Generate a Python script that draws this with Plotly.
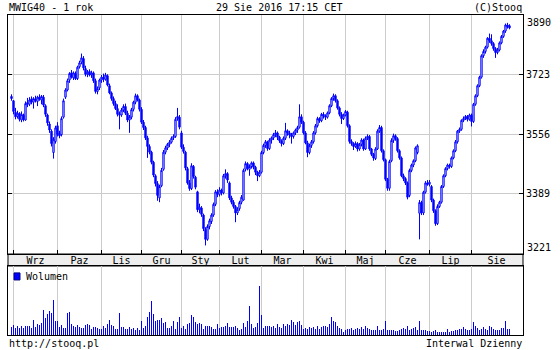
import plotly.graph_objects as go

# ---------------- data ----------------
months = ["Wrz", "Paz", "Lis", "Gru", "Sty", "Lut", "Mar", "Kwi", "Maj", "Cze", "Lip", "Sie"]
month_start_idx = [1, 23, 45, 65, 85, 104, 125, 146, 167, 187, 209, 230]
month_label_pos = [12, 34, 55, 75, 94.5, 114.5, 135.5, 156.5, 177, 198, 219.5, 242.5]
price_ticks = [3389.25, 3556.5, 3722.75]
price_tick_text = ["3389", "3556", "3723"]
price_min, price_max = 3221, 3890

opens = [
    3662, 3650, 3618, 3606, 3614, 3596, 3610, 3596, 3645, 3640,
    3655, 3646, 3655, 3648, 3660, 3652, 3660, 3636, 3610, 3585,
    3565, 3505, 3536, 3580, 3558, 3555, 3604, 3660, 3680, 3708,
    3728, 3714, 3726, 3712, 3745, 3758, 3768, 3740, 3724, 3732,
    3722, 3728, 3706, 3676, 3686, 3708, 3716, 3710, 3720, 3692,
    3672, 3656, 3642, 3628, 3612, 3610, 3624, 3634, 3615, 3596,
    3604, 3626, 3646, 3664, 3652, 3626, 3590, 3575, 3546, 3522,
    3506, 3478, 3440, 3418, 3378, 3412, 3458, 3506, 3518, 3528,
    3534, 3546, 3550, 3600, 3604, 3560, 3520, 3506, 3460, 3420,
    3404, 3466, 3436, 3395, 3345, 3350, 3330, 3290, 3262, 3298,
    3312, 3330, 3360, 3395, 3388, 3400, 3392, 3440, 3446, 3420,
    3378, 3366, 3354, 3336, 3348, 3366, 3372, 3458, 3474, 3458,
    3466, 3476, 3464, 3450, 3440, 3450, 3505, 3525, 3535, 3516,
    3540, 3546, 3555, 3560, 3548, 3538, 3530, 3545, 3566, 3560,
    3554, 3550, 3560, 3568, 3576, 3605, 3590, 3560, 3532, 3505,
    3525, 3535, 3560, 3580, 3600, 3594, 3612, 3608, 3604, 3616,
    3636, 3656, 3664, 3650, 3630, 3612, 3600, 3610, 3618, 3580,
    3536, 3530, 3522, 3530, 3515, 3528, 3540, 3515, 3545, 3550,
    3515, 3500, 3488, 3515, 3565, 3575, 3510, 3485, 3430, 3405,
    3482, 3539, 3552, 3544, 3510, 3490, 3440, 3432, 3420, 3385,
    3455, 3470, 3482, 3505, 3335, 3365, 3336, 3394, 3420, 3416,
    3410, 3372, 3342, 3306, 3354, 3366, 3410, 3440, 3460, 3470,
    3466, 3490, 3510, 3535, 3565, 3570, 3595, 3600, 3606, 3598,
    3610, 3592, 3640, 3664, 3692, 3716, 3776, 3788, 3800, 3825,
    3818, 3810, 3796, 3785, 3792, 3812, 3830, 3845, 3862, 3860,
]
highs = [
    3668, 3652, 3630, 3622, 3618, 3620, 3614, 3648, 3658, 3660,
    3662, 3660, 3664, 3664, 3668, 3666, 3666, 3640, 3614, 3592,
    3570, 3548, 3580, 3590, 3566, 3606, 3656, 3685, 3712, 3730,
    3736, 3732, 3732, 3748, 3762, 3782, 3775, 3748, 3736, 3738,
    3734, 3732, 3712, 3690, 3712, 3722, 3726, 3728, 3724, 3698,
    3676, 3662, 3650, 3640, 3620, 3630, 3640, 3642, 3622, 3610,
    3630, 3650, 3670, 3668, 3656, 3632, 3596, 3580, 3552, 3528,
    3510, 3482, 3444, 3425, 3415, 3462, 3512, 3524, 3532, 3540,
    3550, 3556, 3604, 3630, 3610, 3566, 3528, 3510, 3465, 3428,
    3475, 3470, 3440, 3398, 3362, 3355, 3334, 3296, 3304, 3320,
    3335, 3365, 3400, 3402, 3408, 3404, 3445, 3458, 3450, 3424,
    3384, 3372, 3358, 3352, 3370, 3386, 3460, 3480, 3478, 3472,
    3480, 3480, 3468, 3454, 3456, 3510, 3530, 3540, 3538, 3545,
    3550, 3560, 3568, 3564, 3552, 3542, 3550, 3588, 3570, 3566,
    3560, 3564, 3572, 3580, 3640, 3612, 3594, 3565, 3538, 3530,
    3540, 3565, 3585, 3605, 3604, 3616, 3618, 3612, 3620, 3640,
    3660, 3670, 3668, 3654, 3634, 3618, 3614, 3624, 3622, 3584,
    3542, 3534, 3536, 3534, 3532, 3545, 3544, 3550, 3556, 3554,
    3518, 3504, 3520, 3570, 3582, 3580, 3514, 3488, 3434, 3485,
    3545, 3558, 3556, 3548, 3514, 3494, 3446, 3436, 3424, 3460,
    3474, 3486, 3522, 3528, 3372, 3370, 3398, 3425, 3428, 3428,
    3414, 3376, 3346, 3360, 3370, 3414, 3444, 3464, 3474, 3474,
    3494, 3514, 3540, 3568, 3575, 3598, 3606, 3610, 3610, 3614,
    3614, 3644, 3668, 3696, 3720, 3780, 3794, 3804, 3828, 3838,
    3836, 3814, 3800, 3798, 3816, 3834, 3848, 3866, 3868, 3864,
]
lows = [
    3650, 3612, 3598, 3600, 3592, 3590, 3592, 3594, 3632, 3635,
    3640, 3628, 3645, 3635, 3650, 3640, 3632, 3605, 3580, 3560,
    3522, 3488, 3530, 3550, 3545, 3550, 3600, 3655, 3676, 3700,
    3712, 3708, 3708, 3708, 3740, 3752, 3735, 3718, 3716, 3718,
    3714, 3700, 3670, 3668, 3680, 3700, 3702, 3706, 3690, 3668,
    3650, 3636, 3624, 3606, 3570, 3605, 3618, 3610, 3590, 3560,
    3598, 3620, 3640, 3648, 3620, 3585, 3568, 3540, 3490, 3500,
    3472, 3436, 3410, 3370, 3366, 3408, 3454, 3500, 3512, 3520,
    3530, 3540, 3546, 3594, 3570, 3515, 3502, 3455, 3415, 3398,
    3400, 3432, 3402, 3338, 3335, 3325, 3285, 3245, 3258, 3290,
    3305, 3325, 3355, 3380, 3382, 3385, 3388, 3432, 3420, 3372,
    3360, 3348, 3310, 3330, 3342, 3360, 3370, 3452, 3455, 3440,
    3460, 3458, 3442, 3425, 3436, 3446, 3500, 3518, 3510, 3512,
    3530, 3540, 3548, 3540, 3532, 3522, 3526, 3540, 3552, 3545,
    3530, 3544, 3554, 3560, 3572, 3585, 3555, 3528, 3492, 3500,
    3518, 3530, 3555, 3575, 3588, 3590, 3600, 3596, 3600, 3612,
    3632, 3650, 3645, 3625, 3606, 3585, 3596, 3606, 3575, 3530,
    3524, 3512, 3518, 3508, 3510, 3522, 3510, 3512, 3540, 3510,
    3495, 3482, 3484, 3512, 3560, 3505, 3480, 3425, 3398, 3398,
    3478, 3532, 3538, 3505, 3485, 3436, 3425, 3414, 3374, 3380,
    3450, 3464, 3478, 3500, 3262, 3330, 3330, 3390, 3412, 3410,
    3366, 3336, 3300, 3302, 3350, 3362, 3406, 3436, 3455, 3460,
    3462, 3486, 3506, 3530, 3560, 3566, 3590, 3596, 3592, 3594,
    3578, 3588, 3636, 3660, 3688, 3712, 3770, 3782, 3796, 3812,
    3804, 3790, 3770, 3780, 3788, 3808, 3826, 3840, 3852, 3850,
]
closes = [
    3656, 3620, 3605, 3615, 3598, 3612, 3597, 3642, 3640, 3652,
    3646, 3656, 3650, 3660, 3654, 3662, 3638, 3612, 3588, 3568,
    3530, 3542, 3574, 3556, 3552, 3600, 3650, 3680, 3706, 3726,
    3716, 3728, 3712, 3744, 3756, 3770, 3742, 3724, 3730, 3722,
    3728, 3706, 3676, 3684, 3708, 3716, 3710, 3722, 3694, 3672,
    3656, 3642, 3628, 3612, 3610, 3624, 3634, 3615, 3596, 3605,
    3625, 3646, 3664, 3652, 3626, 3590, 3575, 3546, 3522, 3506,
    3478, 3442, 3418, 3385, 3410, 3455, 3506, 3518, 3528, 3534,
    3545, 3550, 3598, 3606, 3576, 3520, 3508, 3462, 3420, 3404,
    3468, 3438, 3408, 3345, 3352, 3332, 3292, 3262, 3298, 3314,
    3330, 3360, 3395, 3388, 3400, 3392, 3440, 3446, 3428, 3378,
    3366, 3354, 3336, 3346, 3365, 3380, 3455, 3474, 3460, 3466,
    3476, 3464, 3450, 3440, 3450, 3505, 3525, 3535, 3516, 3540,
    3546, 3555, 3560, 3548, 3538, 3530, 3545, 3566, 3560, 3554,
    3550, 3560, 3568, 3575, 3605, 3590, 3560, 3532, 3505, 3525,
    3535, 3560, 3580, 3600, 3594, 3612, 3608, 3604, 3616, 3636,
    3656, 3664, 3650, 3630, 3612, 3600, 3610, 3620, 3580, 3536,
    3530, 3522, 3530, 3515, 3528, 3540, 3515, 3545, 3550, 3515,
    3500, 3490, 3515, 3565, 3575, 3510, 3485, 3430, 3405, 3480,
    3539, 3552, 3544, 3510, 3490, 3440, 3432, 3420, 3380, 3455,
    3470, 3482, 3518, 3524, 3365, 3336, 3394, 3420, 3416, 3422,
    3372, 3342, 3306, 3354, 3366, 3410, 3440, 3460, 3470, 3466,
    3490, 3510, 3535, 3565, 3570, 3595, 3600, 3606, 3598, 3610,
    3592, 3640, 3664, 3692, 3716, 3776, 3788, 3800, 3825, 3818,
    3810, 3796, 3785, 3792, 3812, 3830, 3845, 3862, 3858, 3854,
]
volume = [
    8, 10, 7, 9, 7, 9, 7, 9, 9, 9,
    7, 15, 8, 11, 10, 12, 25, 17, 21, 24,
    22, 35, 14, 14, 8, 10, 7, 7, 22, 23,
    11, 9, 8, 10, 8, 7, 7, 10, 11, 10,
    6, 8, 8, 7, 6, 6, 9, 7, 11, 15,
    10, 9, 6, 6, 22, 8, 8, 6, 6,
    8, 6, 7, 5, 7, 5, 14, 7, 9, 18,
    23, 34, 21, 14, 15, 15, 17, 12, 13, 7,
    7, 9, 14, 6, 13, 18, 7, 9, 6, 11,
    12, 20, 18, 13, 11, 12, 11, 6, 9, 9,
    9, 8, 6, 6, 11, 7, 8, 8, 9, 12,
    8, 8, 8, 9, 7, 5, 6, 12, 8, 14,
    29, 11, 7, 8, 12, 49, 20, 7, 9, 9,
    9, 8, 9, 7, 11,
    8, 7, 11, 9, 11, 10, 15, 13, 10, 13,
    14, 10, 6, 7, 6, 8, 7, 8, 6, 9,
    6, 8, 9, 9, 8, 11, 18, 14, 13, 9,
    7, 6, 3, 5, 6, 6, 7, 5, 6, 7,
    6, 8, 6, 9, 7, 6, 5, 5, 5, 9,
    5, 5, 6, 14, 5, 5, 5, 5, 4, 4,
    5, 6, 7, 6, 9, 5, 6, 7, 8, 5,
    14, 5, 5, 5, 4, 4, 3, 4, 5, 3,
    3, 3, 3, 3, 6, 3, 4, 4, 5, 5,
    6, 6, 8, 6, 5, 5, 6, 13, 9, 7,
    5, 6, 8, 6, 5, 9, 8, 6, 5, 5,
    5, 7, 7, 14, 6, 6,
]
days = list(range(len(closes)))
volume_max = 69

# ---------------- styles ----------------
BLUE = "#0000ff"
GRID = "#cccccc"
FONT = dict(family="DejaVu Sans Mono", size=10, color="black")
x_range = [-1.75, 255.75]
main_dom = [0.253125, 1.0]
vol_dom = [0.0, 0.215625]

fig = go.Figure()
fig.add_trace(go.Candlestick(
    x=days, open=opens, high=highs, low=lows, close=closes,
    increasing=dict(line=dict(color=BLUE, width=1), fillcolor="#ffffff"),
    decreasing=dict(line=dict(color=BLUE, width=1), fillcolor=BLUE),
    whiskerwidth=0, showlegend=False, hoverinfo="skip",
    xaxis="x", yaxis="y",
))
fig.add_trace(go.Bar(
    x=days, y=volume, width=0.5,
    marker=dict(color=BLUE, line=dict(width=0)),
    showlegend=False, hoverinfo="skip", xaxis="x2", yaxis="y2",
))

fig.update_layout(
    width=560, height=350,
    margin=dict(l=8, r=37, t=15, b=15),
    paper_bgcolor="white", plot_bgcolor="white",
    font=FONT, showlegend=False, boxgap=0.05,
    xaxis=dict(
        domain=[0, 1], range=x_range, anchor="y",
        tickmode="array", tickvals=month_label_pos, ticktext=months,
        ticks="", showgrid=False, zeroline=False,
        showline=True, linecolor="black", linewidth=1, mirror=True,
        rangeslider=dict(visible=False), tickfont=FONT, ticklabelstandoff=-3,
        minor=dict(tickmode="array", tickvals=month_start_idx, showgrid=True,
                   gridcolor=GRID, gridwidth=1, ticks="inside", ticklen=4,
                   tickcolor="black"),
    ),
    yaxis=dict(
        domain=main_dom, range=[price_min, price_max], anchor="x", side="right",
        tickmode="array", tickvals=price_ticks, ticktext=price_tick_text,
        showgrid=True, gridcolor=GRID, zeroline=False,
        ticks="inside", ticklen=4, tickcolor="black",
        showline=True, linecolor="black", linewidth=1, mirror="ticks",
        tickfont=FONT,
    ),
    xaxis2=dict(
        domain=[0, 1], range=x_range, anchor="y2",
        tickmode="array", tickvals=month_start_idx, showticklabels=False,
        ticks="", showgrid=True, gridcolor=GRID, zeroline=False,
        showline=True, linecolor="black", linewidth=1, mirror=True,
    ),
    yaxis2=dict(
        domain=vol_dom, range=[0, volume_max], anchor="x2",
        showticklabels=False, ticks="", showgrid=False, zeroline=False,
        showline=True, linecolor="black", linewidth=1, mirror=True,
    ),
)

# month band between price and volume panels
fig.add_shape(type="rect", xref="paper", yref="paper", x0=0, x1=1,
              y0=vol_dom[1], y1=main_dom[0], fillcolor="#eeeeee",
              line=dict(color="black", width=1), layer="below")
# legend swatch for volume
fig.add_shape(type="rect", xref="paper", yref="paper", x0=0.0117, x1=0.0233,
              y0=0.172, y1=0.194, fillcolor=BLUE,
              line=dict(color="#000080", width=1), layer="above")

ann = []
ann.append(dict(text="MWIG40 - 1 rok", xref="paper", yref="paper", x=0, y=1.025,
                xanchor="left", yanchor="middle"))
ann.append(dict(text="29 Sie 2016 17:15 CET", xref="paper", yref="paper", x=0.526, y=1.025,
                xanchor="center", yanchor="middle"))
ann.append(dict(text="(C)Stooq", xref="paper", yref="paper", x=1, y=1.025,
                xanchor="right", yanchor="middle"))
ann.append(dict(text="http://stooq.pl", xref="paper", yref="paper", x=0, y=-0.028,
                xanchor="left", yanchor="middle"))
ann.append(dict(text="Interwal Dzienny", xref="paper", yref="paper", x=1, y=-0.028,
                xanchor="right", yanchor="middle"))
ann.append(dict(text="Wolumen", xref="paper", yref="paper", x=0.033, y=0.184,
                xanchor="left", yanchor="middle"))
ann.append(dict(text=str(price_max), xref="paper", yref="y", x=1, y=price_max,
                xanchor="left", yanchor="top", xshift=3, yshift=-1))
ann.append(dict(text=str(price_min), xref="paper", yref="y", x=1, y=price_min,
                xanchor="left", yanchor="bottom", xshift=3, yshift=0))
for a in ann:
    a.update(showarrow=False, font=FONT, borderpad=0)
fig.update_layout(annotations=ann)

fig.write_html("out.html")
